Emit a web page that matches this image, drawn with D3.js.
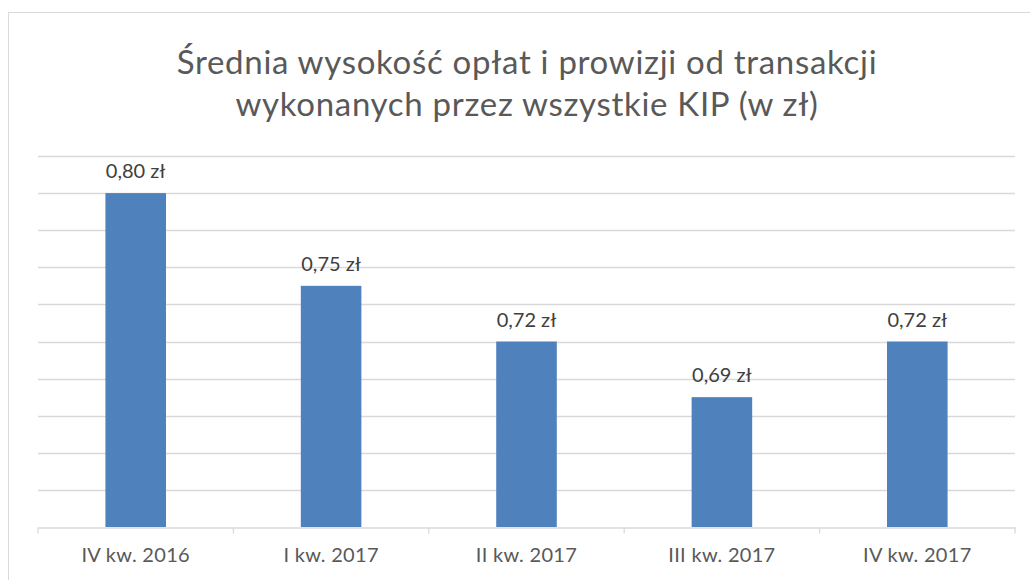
<!DOCTYPE html>
<html>
<head>
<meta charset="utf-8">
<script src="https://cdn.jsdelivr.net/npm/d3@7"></script>
<style>
  body { margin: 0; background: #fff; }
  text { font-family: Lato, "Open Sans", sans-serif; }
</style>
</head>
<body>
<div id="chart"></div>
<script>
const categories = ['IV kw. 2016', 'I kw. 2017', 'II kw. 2017', 'III kw. 2017', 'IV kw. 2017'];
const values = [0.80, 0.75, 0.72, 0.69, 0.72];
const titleLines = ['Średnia wysokość opłat i prowizji od transakcji', 'wykonanych przez wszystkie KIP (w zł)'];
const gridTicks = [0.62, 0.64, 0.66, 0.68, 0.70, 0.72, 0.74, 0.76, 0.78, 0.80, 0.82];

const w = 1030, h = 580;
const plotLeft = 38, plotRight = 1015, plotTop = 156, plotBottom = 527;

const svg = d3.select('#chart').append('svg')
    .attr('width', w)
    .attr('height', h);

// chart frame
svg.append('rect')
    .attr('x', 8.5).attr('y', 12.5)
    .attr('width', 1040).attr('height', 600)
    .attr('fill', 'none')
    .attr('stroke', '#d9d9d9');

// title
svg.append('g').selectAll('text')
    .data(titleLines)
    .enter().append('text')
    .attr('x', 527)
    .attr('y', (d, i) => 74 + i * 42)
    .attr('text-anchor', 'middle')
    .attr('font-size', 33)
    .attr('letter-spacing', 0.7)
    .attr('fill', '#595959')
    .text(d => d);

const x = d3.scaleBand()
    .domain(categories)
    .range([plotLeft, plotRight])
    .paddingInner(0.69)
    .paddingOuter(0.345);

const xOuter = d3.scaleBand().domain(categories).range([plotLeft, plotRight]);

const y = d3.scaleLinear()
    .domain([0.62, 0.82])
    .range([plotBottom, plotTop]);

// gridlines
svg.append('g').selectAll('line')
    .data(gridTicks.slice(1))
    .enter().append('line')
    .attr('x1', plotLeft).attr('x2', plotRight)
    .attr('y1', d => Math.round(y(d)) + 0.5)
    .attr('y2', d => Math.round(y(d)) + 0.5)
    .attr('stroke', '#d9d9d9')
    .attr('stroke-width', 1.3);

// bars
svg.append('g').selectAll('rect')
    .data(values)
    .enter().append('rect')
    .attr('x', (d, i) => x(categories[i]))
    .attr('y', d => y(d))
    .attr('width', x.bandwidth())
    .attr('height', d => plotBottom - y(d))
    .attr('fill', '#4f81bd');

// x axis
const xAxis = d3.axisBottom(xOuter).tickSize(0).tickPadding(20);
const ax = svg.append('g')
    .attr('transform', `translate(0,${plotBottom + 0.5})`)
    .call(xAxis);
ax.select('.domain').attr('stroke', '#d9d9d9').attr('stroke-width', 1.3);
ax.selectAll('text')
    .attr('font-size', 20)
    .attr('letter-spacing', 0.3)
    .attr('fill', '#595959')
    .attr('font-family', 'Lato, sans-serif');

// category separator ticks
const seps = categories.map(c => xOuter(c)).concat([plotRight]);
ax.selectAll('.sep')
    .data(seps)
    .enter().append('line')
    .attr('class', 'sep')
    .attr('x1', d => d).attr('x2', d => d)
    .attr('y1', 0).attr('y2', 6)
    .attr('stroke', '#d9d9d9')
    .attr('stroke-width', 1.3);

// data labels
svg.append('g').selectAll('text')
    .data(values)
    .enter().append('text')
    .attr('x', (d, i) => x(categories[i]) + x.bandwidth() / 2)
    .attr('y', d => y(d) - 15)
    .attr('text-anchor', 'middle')
    .attr('font-size', 20)
    .attr('fill', '#404040')
    .text(d => d3.format('.2f')(d).replace('.', ',') + ' zł');
</script>
</body>
</html>
